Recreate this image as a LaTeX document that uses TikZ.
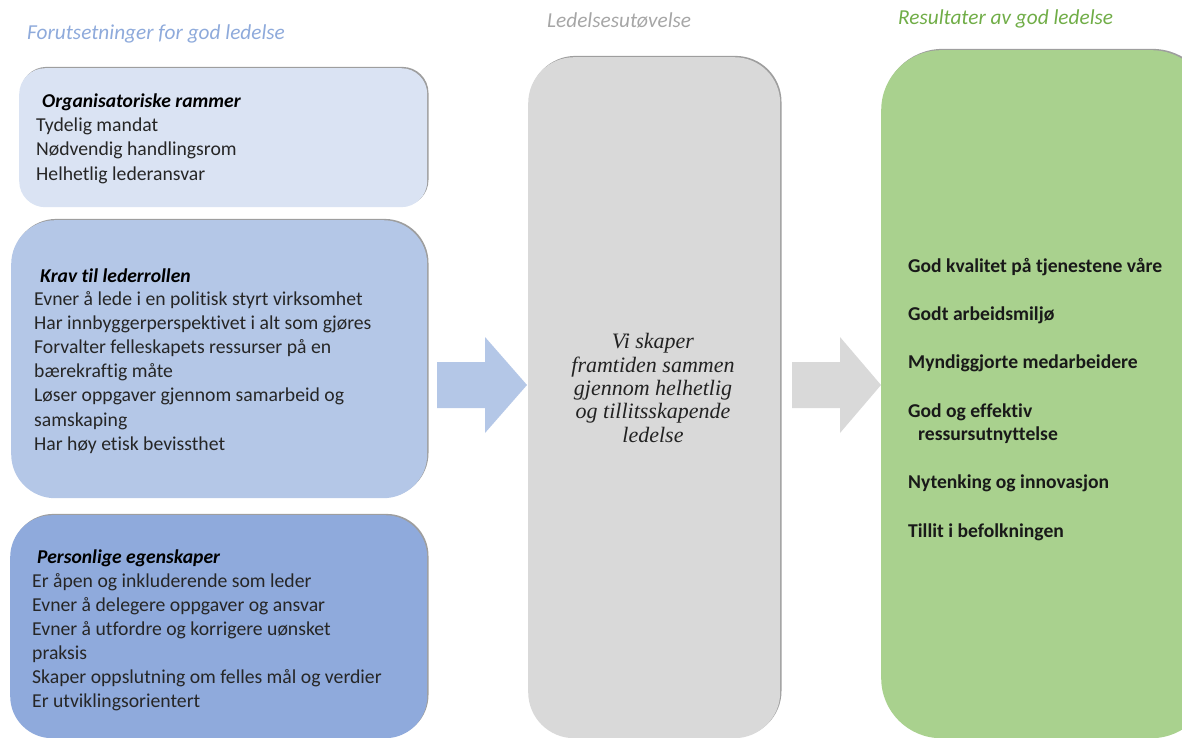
\documentclass[tikz,border=0pt]{standalone}
\usepackage{fontspec}
\setmainfont{Carlito}[Ligatures=CommonOff]
\newfontfamily\midserif{Liberation Serif}
\usetikzlibrary{shadows}
\definecolor{lightbox}{HTML}{DAE3F3}
\definecolor{midbox}{HTML}{B4C7E7}
\definecolor{darkbox}{HTML}{8FAADC}
\definecolor{greybox}{HTML}{D9D9D9}
\definecolor{greenbox}{HTML}{A9D18E}
\definecolor{titleblue}{HTML}{8EAADB}
\definecolor{titlegrey}{HTML}{A6A6A6}
\definecolor{titlegreen}{HTML}{70AD47}
\definecolor{bodytext}{HTML}{262626}
\definecolor{serift}{HTML}{222222}
\tikzset{
  panel/.style={anchor=north west, inner sep=0pt, draw=none,
     general shadow={shadow xshift=1.3pt, shadow yshift=1.3pt, fill=black!38}},
  body/.style={anchor=base west, inner sep=0pt, text=bodytext, font=\fontsize{19.7}{24}\selectfont},
  head/.style={anchor=base west, inner sep=0pt, text=black, font=\fontsize{19.6}{24}\selectfont\bfseries\itshape},
  res/.style={anchor=base west, inner sep=0pt, text=black!90, font=\fontsize{19.6}{24}\selectfont\bfseries},
  mid/.style={anchor=base, inner sep=0pt, text=serift, font=\fontsize{22}{24}\midserif\itshape},
  ttl/.style={anchor=base west, inner sep=0pt, font=\fontsize{21.3}{24}\selectfont\itshape}
}
\begin{document}
\begin{tikzpicture}[x=1pt,y=-1pt]
\useasboundingbox (0,0) rectangle (1182,738);
\clip (0,0) rectangle (1182,738);

% titles
\node[ttl, text=titleblue] (t1) at (27,40) {Forutsetninger for god ledelse};
\node[ttl, text=titlegrey] (t2) at (547,28) {Ledelsesutøvelse};
\node[ttl, text=titlegreen] (t3) at (898,25) {Resultater av god ledelse};

% left panels
\node[panel, fill=lightbox, rounded corners=26pt, minimum width=408pt, minimum height=139pt] (b1) at (19,68) {};
\node[panel, fill=midbox, rounded corners=44pt, minimum width=416pt, minimum height=278pt] (b2) at (11,220) {};
\node[panel, fill=darkbox, rounded corners=42pt, minimum width=417pt, minimum height=223pt] (b3) at (10,515) {};

% middle and right panels
\node[panel, fill=greybox, rounded corners=46pt, minimum width=252pt, minimum height=681pt] (mp) at (528,57) {};
\node[panel, fill=greenbox, rounded corners=60pt, minimum width=330pt, minimum height=688pt] (rp) at (881,50) {};

% block arrows
\fill[midbox] (437,362) -- (485,362) -- (485,337) -- (527,385) -- (485,433) -- (485,408) -- (437,408) -- cycle;
\fill[greybox] (792,362) -- (840,362) -- (840,337) -- (881,385) -- (840,433) -- (840,408) -- (792,408) -- cycle;

% box 1 text
\node[head] (h1) at (42,108) {Organisatoriske rammer};
\foreach \t [count=\i] in {Tydelig mandat, Nødvendig handlingsrom, Helhetlig lederansvar}
  \node[body] (o\i) at (36,{132+24*(\i-1)}) {\t};

% box 2 text
\node[head] (h2) at (40,282) {Krav til lederrollen};
\foreach \t [count=\i] in {Evner å lede i en politisk styrt virksomhet, Har innbyggerperspektivet i alt som gjøres, Forvalter felleskapets ressurser på en, bærekraftig måte, Løser oppgaver gjennom samarbeid og, samskaping, Har høy etisk bevissthet}
  \node[body] (k\i) at (34,{305+24.2*(\i-1)}) {\t};

% box 3 text
\node[head] (h3) at (37,563) {Personlige egenskaper};
\foreach \t [count=\i] in {Er åpen og inkluderende som leder, Evner å delegere oppgaver og ansvar, Evner å utfordre og korrigere uønsket, praksis, Skaper oppslutning om felles mål og verdier, Er utviklingsorientert}
  \node[body] (p\i) at (32,{587+24*(\i-1)}) {\t};

% middle text
\foreach \t/\yy [count=\i] in {Vi skaper/348, framtiden sammen/372, gjennom helhetlig/395, og tillitsskapende/418, ledelse/442}
  \node[mid] (m\i) at (653,\yy) {\t};

% results
\node[res] (r1) at (908,272) {God kvalitet på tjenestene våre};
\node[res] (r2) at (908,320) {Godt arbeidsmiljø};
\node[res] (r3) at (908,368) {Myndiggjorte medarbeidere};
\node[res] (r4) at (908,417) {God og effektiv};
\node[res] (r5) at (918,440) {ressursutnyttelse};
\node[res] (r6) at (908,488) {Nytenking og innovasjon};
\node[res] (r7) at (908,537) {Tillit i befolkningen};
\end{tikzpicture}
\end{document}
